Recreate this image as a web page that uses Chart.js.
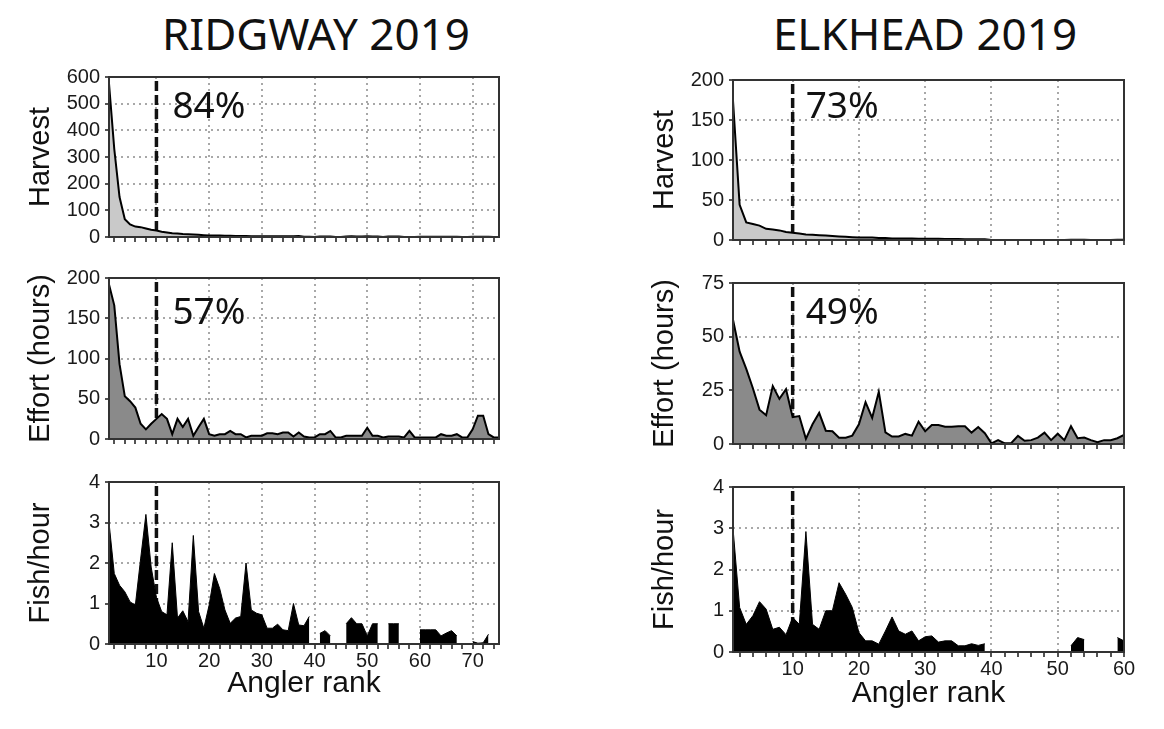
<!DOCTYPE html>
<html>
<head>
<meta charset="utf-8">
<title>Angler rank - Ridgway / Elkhead 2019</title>
<script src="https://cdn.jsdelivr.net/npm/chart.js@4.4.1/dist/chart.umd.min.js"></script>
<style>
  html, body { margin: 0; padding: 0; background: #fff; }
  #stage { position: relative; width: 1164px; height: 729px; overflow: hidden; }
  #stage canvas { position: absolute; }
  .lake {
    position: absolute; top: 8px; width: 600px; text-align: center;
    font: 44px "Noto Sans", sans-serif; line-height: 50px; color: #111;
  }
</style>
</head>
<body>
<div id="stage">
  <div class="lake" style="left:16px">RIDGWAY 2019</div>
  <div class="lake" style="left:625px">ELKHEAD 2019</div>
</div>

<script>
// Ridgway 2019, angler rank 1..75
const ridgwayHarvest = [
  575, 330, 150, 67, 47, 39, 37, 32, 27, 24,
  20, 17, 14, 13, 11, 10, 9, 8, 7, 6,
  6, 6, 5, 5, 4, 4, 4, 3, 3, 3,
  2.7, 2.7, 2.9, 2.8, 2.6, 3, 3.8, 1.4, 1.4, 0,
  1.5, 2, 2, 0, 0, 2, 2.6, 2, 2, 2.8,
  2, 2, 0, 1.5, 1.5, 1.5, 0, 0, 0, 0.7,
  0.7, 0.7, 0.7, 1.2, 1.1, 1.3, 1.2, 0, 0, 0.7,
  0.6, 0.9, 1.4, 0, 0
];
const ridgwayEffort = [
  192, 166, 93, 53, 47, 39, 19, 12, 19, 25,
  31, 25, 6, 25, 15, 25, 4, 15, 25, 6,
  4, 6, 6, 10, 6, 6, 2, 4, 4, 4,
  7, 7, 6, 8, 8, 3, 8, 3, 2, 2,
  6, 6, 10, 2, 2, 4, 4, 4, 4, 14,
  4, 4, 2, 3, 3, 3, 2, 10, 2, 2,
  2, 2, 2, 6, 4, 4, 6, 2, 2, 12,
  29, 29, 6, 2, 2
];
const ridgwayRate = [
  3.0, 1.74, 1.45, 1.29, 1.04, 0.96, 2.1, 3.2, 1.9, 1.15,
  0.8, 0.72, 2.5, 0.64, 0.82, 0.55, 2.68, 0.8, 0.39, 0.96,
  1.74, 1.37, 0.84, 0.51, 0.64, 0.68, 2.0, 0.84, 0.76, 0.72,
  0.39, 0.39, 0.49, 0.35, 0.33, 1.0, 0.47, 0.45, 0.68, null,
  0.26, 0.33, 0.2, null, null, 0.5, 0.65, 0.5, 0.5, 0.2,
  0.5, 0.5, null, 0.5, 0.5, 0.5, null, null, null, 0.35,
  0.35, 0.35, 0.35, 0.2, 0.27, 0.33, 0.2, null, null, 0.06,
  0.02, 0.03, 0.24, null, null
];

// Elkhead 2019, angler rank 1..60
const elkheadHarvest = [
  174, 44, 22, 20, 18, 14, 13, 12, 10, 9,
  8, 7, 6.5, 6, 5.5, 5, 4.5, 4, 3.5, 3,
  3, 3, 2.5, 2.5, 2, 2, 2, 2, 1.5, 1.5,
  1.5, 1.5, 1.2, 1.2, 1.2, 1, 1, 1, 0.8, 0,
  0, 0, 0, 0, 0, 0, 0, 0, 0, 0,
  0, 0.4, 0.4, 0.3, 0, 0, 0, 0, 0.3, 0.3
];
const elkheadEffort = [
  57.9, 43, 35, 26, 16, 13.4, 27, 21, 25.5, 12.5,
  13, 2.4, 9.2, 14.5, 6.2, 5.9, 2.9, 2.9, 3.9, 9.2,
  19.5, 12.2, 24.3, 5.4, 3.5, 3.5, 4.7, 3.9, 10.4, 5.9,
  8.8, 8.8, 8, 8, 8.3, 8.3, 5.3, 7.9, 5, 0.3,
  1.8, 0.3, 0.5, 3.8, 1.5, 1.8, 3, 5.3, 1.8, 4.8,
  1.8, 8.3, 2.7, 3, 1.8, 0.8, 1.8, 1.8, 2.7, 4.2
];
const elkheadRate = [
  3.0, 1.08, 0.67, 0.88, 1.22, 1.04, 0.55, 0.6, 0.42, 0.84,
  0.67, 2.92, 0.67, 0.55, 1.0, 1.0, 1.68, 1.4, 1.08, 0.47,
  0.27, 0.27, 0.19, 0.51, 0.85, 0.51, 0.43, 0.51, 0.27, 0.37,
  0.39, 0.24, 0.27, 0.27, 0.15, 0.15, 0.2, 0.16, 0.2, null,
  null, null, null, null, null, null, null, null, null, null,
  null, 0.15, 0.35, 0.3, null, null, null, null, 0.35, 0.27
];

// axis ticks
const ridgwayRankTicks = [2, 4, 6, 8, 10, 12, 14, 16, 18, 20, 22, 24, 26, 28, 30, 32, 34, 36, 38,
  40, 42, 44, 46, 48, 50, 52, 54, 56, 58, 60, 62, 64, 66, 68, 70, 72, 74];
const ridgwayRankLabels = [10, 20, 30, 40, 50, 60, 70];
const elkheadRankTicks = [2, 4, 6, 8, 10, 12, 14, 16, 18, 20, 22, 24, 26, 28, 30,
  32, 34, 36, 38, 40, 42, 44, 46, 48, 50, 52, 54, 56, 58, 60];
const elkheadRankLabels = [10, 20, 30, 40, 50, 60];
const ridgwayHarvestTicks = [0, 100, 200, 300, 400, 500, 600];
const ridgwayEffortTicks = [0, 50, 100, 150, 200];
const elkheadHarvestTicks = [0, 50, 100, 150, 200];
const elkheadEffortTicks = [0, 25, 50, 75];
const rateTicks = [0, 1, 2, 3, 4];

// share of the total held by the top 10 anglers
const topAnglers = 10;
const ridgwayShares = ['84%', '57%'];
const elkheadShares = ['73%', '49%'];

const GRID = '#a8a8a8';
const INK = '#1a1a1a';
const PAD_TOP = 16;

// dashed top-10 line under the area, frame and share label on top
const panelDecor = {
  id: 'panelDecor',
  beforeDatasetsDraw(chart, args, opts) {
    const { ctx, chartArea: a, scales: { x } } = chart;
    const px = x.getPixelForValue(opts.rank);
    ctx.save();
    ctx.strokeStyle = '#111';
    ctx.lineWidth = 3.5;
    ctx.setLineDash([10, 4]);
    ctx.beginPath();
    ctx.moveTo(px, a.top + 4);
    ctx.lineTo(px, a.bottom);
    ctx.stroke();
    ctx.restore();
  },
  afterDraw(chart, args, opts) {
    const { ctx, chartArea: a, scales: { x } } = chart;
    ctx.save();
    ctx.strokeStyle = '#333';
    ctx.lineWidth = 2;
    ctx.strokeRect(a.left, a.top, a.right - a.left, a.bottom - a.top);
    if (opts.share) {
      ctx.fillStyle = '#111';
      ctx.font = '37px "Noto Sans"';
      ctx.textBaseline = 'alphabetic';
      ctx.fillText(opts.share, x.getPixelForValue(opts.rank) + opts.shareDx, a.top + opts.shareTop);
    }
    ctx.restore();
  }
};

function addPanel(p) {
  const stage = document.getElementById('stage');
  const canvas = document.createElement('canvas');
  canvas.width = p.plotRight - p.colLeft + p.padRight;
  canvas.height = PAD_TOP + (p.plotBottom - p.plotTop) + p.xh;
  canvas.style.left = p.colLeft + 'px';
  canvas.style.top = (p.plotTop - PAD_TOP) + 'px';
  stage.appendChild(canvas);

  return new Chart(canvas, {
    type: 'line',
    data: {
      datasets: [{
        data: p.values.map((v, i) => ({ x: i + 1, y: v })),
        borderColor: '#000',
        borderWidth: p.lineWidth,
        backgroundColor: p.fill,
        fill: 'origin',
        pointRadius: 0,
        tension: 0,
        spanGaps: false
      }]
    },
    options: {
      responsive: false,
      animation: false,
      events: [],
      layout: { padding: { top: PAD_TOP, right: p.padRight, bottom: 0, left: 0 } },
      plugins: {
        legend: { display: false },
        tooltip: { enabled: false },
        panelDecor: { rank: topAnglers, share: p.share, shareTop: p.shareTop, shareDx: p.shareDx }
      },
      scales: {
        x: {
          type: 'linear',
          min: 1,
          max: p.rankMax,
          afterBuildTicks: s => { s.ticks = p.rankTicks.map(v => ({ value: v })); },
          afterFit: s => { s.height = p.xh; },
          border: { display: false, dash: [2, 4] },
          grid: {
            color: c => (c.tick && p.rankLabels.includes(c.tick.value)) ? GRID : 'rgba(0,0,0,0)',
            lineWidth: 2,
            tickColor: INK,
            tickWidth: 1.5,
            tickLength: 5,
            tickBorderDash: []
          },
          ticks: {
            display: p.bottom,
            autoSkip: false,
            maxRotation: 0,
            padding: 0,
            color: INK,
            font: { family: 'Liberation Sans', size: 20 },
            callback: v => p.rankLabels.includes(v) ? String(v) : ''
          },
          title: {
            display: p.bottom,
            text: 'Angler rank',
            color: '#111',
            font: { family: 'Liberation Sans', size: 30 },
            padding: { top: 0, bottom: 0 }
          }
        },
        y: {
          min: 0,
          max: p.yTicks[p.yTicks.length - 1],
          afterBuildTicks: s => { s.ticks = p.yTicks.map(v => ({ value: v })); },
          afterFit: s => { s.width = p.plotLeft - p.colLeft; },
          border: { display: false, dash: [2, 4] },
          grid: {
            color: GRID,
            lineWidth: 2,
            tickColor: INK,
            tickWidth: 1.5,
            tickLength: 4,
            tickBorderDash: []
          },
          ticks: { padding: 5, color: INK, font: { family: 'Liberation Sans', size: 20 } },
          title: {
            display: true,
            text: p.yTitle,
            color: '#111',
            font: { family: 'Liberation Sans', size: 29 },
            padding: { top: p.titlePad, bottom: 0 }
          }
        }
      }
    },
    plugins: [panelDecor]
  });
}

const ridgwayCol = { colLeft: 0, plotLeft: 109, plotRight: 499, padRight: 11, titlePad: 24,
  rankMax: 75, rankTicks: ridgwayRankTicks, rankLabels: ridgwayRankLabels, shareDx: 16 };
const elkheadCol = { colLeft: 620, plotLeft: 733, plotRight: 1124, padRight: 16, titlePad: 28,
  rankMax: 60, rankTicks: elkheadRankTicks, rankLabels: elkheadRankLabels, shareDx: 13 };

const panels = [
  { ...ridgwayCol, plotTop: 76, plotBottom: 240, xh: 14, bottom: false, values: ridgwayHarvest,
    yTicks: ridgwayHarvestTicks, yTitle: 'Harvest', fill: '#c9c9c9', lineWidth: 2,
    share: ridgwayShares[0], shareTop: 41 },
  { ...ridgwayCol, plotTop: 277, plotBottom: 442, xh: 14, bottom: false, values: ridgwayEffort,
    yTicks: ridgwayEffortTicks, yTitle: 'Effort (hours)', fill: '#8a8a8a', lineWidth: 2,
    share: ridgwayShares[1], shareTop: 46 },
  { ...ridgwayCol, plotTop: 481, plotBottom: 644, xh: 58, bottom: true, values: ridgwayRate,
    yTicks: rateTicks, yTitle: 'Fish/hour', fill: '#000', lineWidth: 1, share: null },
  { ...elkheadCol, plotTop: 79, plotBottom: 243, xh: 14, bottom: false, values: elkheadHarvest,
    yTicks: elkheadHarvestTicks, yTitle: 'Harvest', fill: '#c9c9c9', lineWidth: 2,
    share: elkheadShares[0], shareTop: 38 },
  { ...elkheadCol, plotTop: 282, plotBottom: 447, xh: 14, bottom: false, values: elkheadEffort,
    yTicks: elkheadEffortTicks, yTitle: 'Effort (hours)', fill: '#8a8a8a', lineWidth: 2,
    share: elkheadShares[1], shareTop: 41 },
  { ...elkheadCol, plotTop: 486, plotBottom: 652, xh: 60, bottom: true, values: elkheadRate,
    yTicks: rateTicks, yTitle: 'Fish/hour', fill: '#000', lineWidth: 1, share: null }
];

panels.forEach(addPanel);
</script>
</body>
</html>
